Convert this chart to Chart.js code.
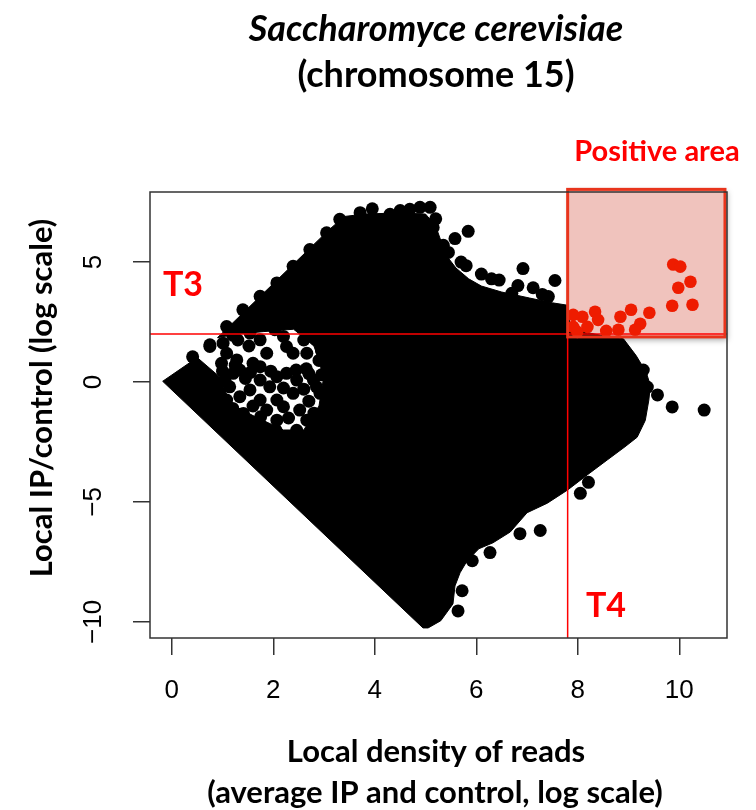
<!DOCTYPE html>
<html>
<head>
<meta charset="utf-8">
<script src="https://cdn.jsdelivr.net/npm/chart.js@4.4.1/dist/chart.umd.min.js"></script>
<style>
  body { margin: 0; background: #fff; }
  canvas { display: block; }
</style>
</head>
<body>
<canvas id="ma-plot" width="756" height="810"></canvas>
<script>
// axes
const xTicks = [0, 2, 4, 6, 8, 10];
const yTicks = [-10, -5, 0, 5];
const xRange = [-0.43, 10.94];
const yRange = [-10.67, 7.92];

// thresholds
const t3 = 2;
const t4 = 7.8;
const positiveX = [7.8, 10.9];
const positiveY = [1.88, 8.03];

// windows in the positive area
const redX = [9.88, 10.02, 10.22, 9.98, 9.86, 10.26, 9.41, 9.05, 8.84, 9.23, 9.13, 8.80, 8.56, 8.34, 8.40, 8.09, 8.19, 7.91, 7.91, 7.99];
const redY = [4.90, 4.81, 4.18, 3.93, 3.18, 3.22, 2.89, 3.01, 2.72, 2.43, 2.18, 2.18, 2.13, 2.93, 2.59, 2.72, 2.30, 2.80, 2.30, 2.09];

// single windows that stand out of the cloud
const dotX = [
  0.41, 0.75, 1.08, 1.40, 1.74, 2.07, 2.39, 2.72, 3.05, 3.31, 3.71, 3.95, 4.30, 4.50, 4.69, 4.89, 5.09, 5.20, 5.15, 5.29, 5.35,
  5.58, 5.84, 6.92, 7.55, 6.82, 7.12, 7.42, 5.70, 6.30,
  5.45, 5.80, 6.10, 6.45, 6.70, 7.30,
  9.29, 9.57, 9.86, 10.49, 9.37, 8.05, 8.21, 7.26, 6.86, 6.27, 5.92, 5.72, 5.64,
  0.75, 1.01, 0.98, 1.54, 1.74, 2.03, 2.33, 1.28, 1.34, 1.21, 1.60, 1.74, 1.87, 1.74, 1.54, 1.93, 2.26, 2.46, 2.39, 2.07,
  1.74, 1.41, 1.87, 2.20, 2.52, 2.66, 2.46, 2.66, 2.85, 2.39, 2.79, 2.92, 3.05, 2.07, 1.34, 1.14, 1.08, 2.07, 2.26, 1.08,
  1.25, 1.30, 1.95, 2.60, 2.60, 2.95, 2.90, 2.65, 2.60, 2.30, 2.05, 1.75, 1.05, 1.45, 1.95, 1.25, 2.70, 2.20,
  1.52, 2.80, 2.45, 2.95, 2.85, 2.70, 1.60, 2.80, 1.20, 1.00, 1.55, 2.20, 1.20
];
const dotY = [
  1.05, 1.55, 2.31, 3.01, 3.57, 4.13, 4.82, 5.52, 6.22, 6.78, 7.06, 7.22, 6.99, 7.15, 7.20, 7.28, 7.28, 6.80, 6.44, 5.23, 5.70,
  5.98, 6.28, 4.73, 4.23, 4.02, 3.93, 3.56, 5.00, 4.30,
  5.40, 4.85, 4.50, 4.25, 3.70, 3.65,
  0.50, -0.54, -1.04, -1.17, -0.21, -4.64, -4.18, -6.19, -6.32, -7.11, -7.45, -8.70, -9.54,
  1.48, 1.62, 0.78, 2.04, 1.76, 2.18, 2.46, 0.92, 0.50, 0.36, 0.78, 0.64, 1.20, 0.08, -0.33, -0.20, 0.36, 0.08, -0.47, -0.75,
  -0.75, -1.31, -1.17, -1.03, -1.17, -1.59, -2.01, 1.20, 1.76, 1.20, 0.08, -0.47, 0.64, 0.22, -0.61, -0.20, -0.75, -1.59, 1.48, 1.20,
  2.20, 1.75, 2.45, 2.30, 1.75, 1.30, 0.90, 0.55, -0.30, -1.50, -2.00, -1.45, 0.05, 0.15, 0.45, 0.70, 0.35, -0.25,
  1.50, 2.20, 0.50, 0.30, -0.20, -0.80, -1.00, -1.30, -1.10, 0.45, 0.40, 1.90, 1.95
];

// outline of the solid part of the cloud
const cloudX = [-0.18, 0.50, 0.95, 1.15, 1.60, 2.20, 2.60, 2.90, 3.00, 2.80, 2.40, 1.80, 1.30, 0.90, 1.60, 2.40, 3.10, 3.40, 3.80, 4.50, 5.00,
  5.20, 5.30, 5.40, 5.60, 5.85, 6.10, 6.50, 7.05, 7.50, 7.80, 7.85, 8.45, 8.90, 9.15, 9.35, 9.43, 9.40, 9.33, 9.17, 8.93,
  8.58, 8.20, 7.80, 7.40, 7.00, 6.67, 6.33, 6.05, 5.82, 5.68, 5.58, 5.54, 5.30, 5.05, 4.95, -0.18];
const cloudY = [0.03, 1.02, 0.20, -0.90, -1.40, -2.00, -2.00, -1.00, 0.30, 1.50, 2.20, 2.10, 2.00, 1.85, 3.28, 4.92, 6.35, 6.90, 7.00, 7.05, 7.00,
  6.50, 5.90, 5.30, 4.75, 4.30, 4.00, 3.75, 3.50, 3.30, 3.20, 2.20, 1.95, 1.80, 1.10, 0.40, -0.15, -0.75, -1.60, -2.30, -2.70,
  -3.25, -3.85, -4.50, -5.05, -5.45, -6.25, -6.70, -6.95, -7.45, -7.95, -8.50, -9.25, -9.95, -10.25, -10.25, 0.03];

const pts = (xs, ys) => xs.map((x, i) => ({ x: x, y: ys[i] }));

const calibri = '"Lato", "Open Sans", sans-serif';
const helv = '"Liberation Sans", Arial, sans-serif';

const decorations = {
  id: 'decorations',
  beforeDatasetsDraw(chart) {
    const ctx = chart.ctx;
    const xs = chart.scales.x, ys = chart.scales.y;
    const x0 = xs.getPixelForValue(positiveX[0]), x1 = xs.getPixelForValue(positiveX[1]);
    const y0 = ys.getPixelForValue(positiveY[1]), y1 = ys.getPixelForValue(positiveY[0]);
    ctx.save();
    ctx.shadowColor = 'rgba(0,0,0,0.35)';
    ctx.shadowBlur = 6;
    ctx.shadowOffsetX = 2;
    ctx.shadowOffsetY = 3;
    ctx.fillStyle = '#f0c3bd';
    ctx.fillRect(x0, y0, x1 - x0, y1 - y0);
    ctx.restore();
  },
  afterDatasetsDraw(chart) {
    const ctx = chart.ctx;
    const xs = chart.scales.x, ys = chart.scales.y;
    const x0 = xs.getPixelForValue(positiveX[0]), x1 = xs.getPixelForValue(positiveX[1]);
    const y0 = ys.getPixelForValue(positiveY[1]), y1 = ys.getPixelForValue(positiveY[0]);
    ctx.save();
    ctx.strokeStyle = '#e8341c';
    ctx.lineWidth = 3;
    ctx.strokeRect(x0, y0, x1 - x0, y1 - y0);
    ctx.restore();
  },
  afterDraw(chart) {
    const ctx = chart.ctx;
    const a = chart.chartArea;
    ctx.save();
    ctx.strokeStyle = '#333';
    ctx.lineWidth = 1.5;
    ctx.strokeRect(a.left, a.top, a.right - a.left, a.bottom - a.top);

    ctx.textAlign = 'center';
    ctx.textBaseline = 'middle';
    ctx.fillStyle = '#000';
    ctx.font = 'italic bold 36px ' + calibri;
    ctx.fillText('Saccharomyce cerevisiae', 436, 29);
    ctx.font = 'bold 36px ' + calibri;
    ctx.fillText('(chromosome 15)', 436, 75);

    ctx.font = 'bold 31px ' + calibri;
    ctx.fillText('Local density of reads', 436, 752);
    ctx.fillText('(average IP and control, log scale)', 435, 793);
    ctx.save();
    ctx.translate(42, 398);
    ctx.rotate(-Math.PI / 2);
    ctx.fillText('Local IP/control (log scale)', 0, 0);
    ctx.restore();

    ctx.fillStyle = '#ff0000';
    ctx.font = 'bold 29px ' + calibri;
    ctx.fillText('Positive area', 657, 152);
    ctx.font = 'bold 34px ' + calibri;
    ctx.fillText('T3', 183, 285);
    ctx.fillText('T4', 606, 606);
    ctx.restore();
  }
};

new Chart(document.getElementById('ma-plot'), {
  type: 'scatter',
  data: {
    datasets: [
      {
        label: 'positive',
        data: pts(redX, redY),
        backgroundColor: '#ee1c00',
        borderWidth: 0,
        pointRadius: 6.3
      },
      {
        label: 'T3',
        data: [{ x: xRange[0], y: t3 }, { x: xRange[1], y: t3 }],
        showLine: true,
        borderColor: '#ff0000',
        borderWidth: 1.5,
        pointRadius: 0
      },
      {
        label: 'T4',
        data: [{ x: t4, y: yRange[0] }, { x: t4, y: t3 }],
        showLine: true,
        borderColor: '#ff0000',
        borderWidth: 1.5,
        pointRadius: 0
      },
      {
        label: 'windows',
        data: pts(dotX, dotY),
        backgroundColor: '#000',
        borderWidth: 0,
        pointRadius: 6.5
      },
      {
        label: 'cloud',
        data: pts(cloudX, cloudY),
        showLine: true,
        fill: 'shape',
        backgroundColor: '#000',
        borderColor: '#000',
        borderWidth: 1,
        pointRadius: 0,
        tension: 0
      }
    ]
  },
  options: {
    responsive: false,
    animation: false,
    layout: { padding: { left: 0, right: 29, top: 192, bottom: 0 } },
    plugins: {
      legend: { display: false },
      tooltip: { enabled: false }
    },
    scales: {
      x: {
        type: 'linear',
        min: xRange[0],
        max: xRange[1],
        afterFit(scale) { scale.height = 172; },
        afterBuildTicks(scale) { scale.ticks = xTicks.map(v => ({ value: v })); },
        border: { display: false },
        grid: { drawOnChartArea: false, drawTicks: true, tickLength: 17, color: '#333', lineWidth: 1.5 },
        ticks: {
          font: { family: helv, size: 26 },
          color: '#000',
          padding: 20,
          maxRotation: 0
        }
      },
      y: {
        type: 'linear',
        min: yRange[0],
        max: yRange[1],
        afterFit(scale) { scale.width = 150; },
        afterBuildTicks(scale) { scale.ticks = yTicks.map(v => ({ value: v })); },
        border: { display: false },
        grid: { drawOnChartArea: false, drawTicks: true, tickLength: 17, color: '#333', lineWidth: 1.5 },
        ticks: {
          font: { family: helv, size: 26 },
          color: '#000',
          padding: 17,
          minRotation: 90,
          maxRotation: 90,
          crossAlign: 'center',
          callback: v => String(v).replace('-', '\u2212')
        }
      }
    }
  },
  plugins: [decorations]
});
</script>
</body>
</html>
